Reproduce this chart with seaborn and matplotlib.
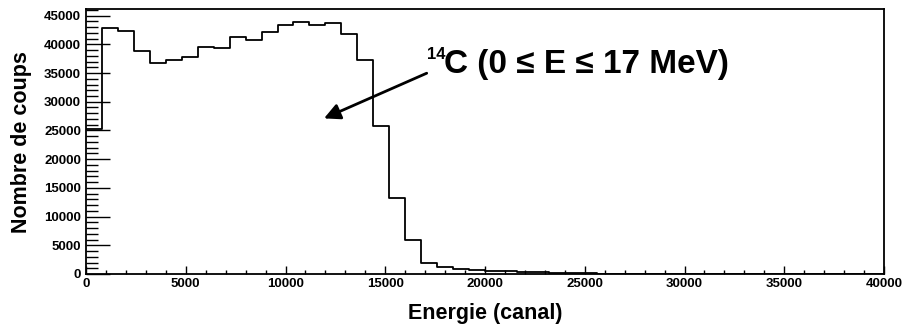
import numpy as np
import pandas as pd
import matplotlib
matplotlib.use("Agg")
import matplotlib.pyplot as plt
from matplotlib.ticker import MultipleLocator
import seaborn as sns

# =========================
# DATA (histogram, 50 bins of 800 channels)
# =========================
bin_width = 800
n_bins = 50
counts = [25200, 42900, 42400, 38800, 36700, 37200, 37800, 39500, 39300, 41300,
          40800, 42100, 43400, 43950, 43300, 43800, 41750, 37200, 25800, 13150,
          5900, 1950, 1300, 900, 620, 520, 450, 400, 350, 120,
          200, 120, 0, 0, 0, 0, 0, 0, 0, 0,
          0, 0, 0, 0, 0, 0, 0, 0, 0, 0]
edges = [i * bin_width for i in range(n_bins + 1)]
centers = [e + bin_width / 2 for e in edges[:-1]]

x_label = "Energie (canal)"
y_label = "Nombre de coups"
note = "C (0 \u2264 E \u2264 17 MeV)"
note_sup = "14"

df = pd.DataFrame({"canal": centers, "coups": counts})

# =========================
# STYLE
# =========================
sns.set_style("ticks")
plt.rcParams["font.family"] = ["Liberation Sans", "DejaVu Sans"]
plt.rcParams["font.weight"] = "bold"
for key in ["text.color", "axes.labelcolor", "xtick.color", "ytick.color",
            "axes.edgecolor"]:
    plt.rcParams[key] = "black"

fig = plt.figure(figsize=(9.05, 3.24), dpi=100)
ax = fig.add_axes([86 / 905, 1 - 274 / 324, 798 / 905, (274 - 9.3) / 324])

sns.histplot(data=df, x="canal", weights="coups", bins=edges, element="step",
             fill=False, color="black", linewidth=1.3, ax=ax)

ax.set_xlim(0, 40000)
ax.set_ylim(0, 46100)

ax.xaxis.set_major_locator(MultipleLocator(5000))
ax.xaxis.set_minor_locator(MultipleLocator(1000))
ax.yaxis.set_major_locator(MultipleLocator(5000))
ax.yaxis.set_minor_locator(MultipleLocator(1000))

ax.tick_params(axis="x", which="major", direction="in", length=6, width=1,
               labelsize=9.5, pad=3, top=False)
ax.tick_params(axis="x", which="minor", direction="in", length=3, width=1)
ax.tick_params(axis="y", which="major", direction="in", length=17, width=1,
               labelsize=9.5, pad=3.5, right=False)
ax.tick_params(axis="y", which="minor", direction="in", length=8.5, width=1)
for lab in ax.get_xticklabels() + ax.get_yticklabels():
    lab.set_fontweight("bold")

for side in ax.spines.values():
    side.set_visible(True)
    side.set_linewidth(1.3)
    side.set_color("black")

ax.set_xlabel(x_label, fontsize=15.5, fontweight="bold")
ax.set_ylabel(y_label, fontsize=15.5, fontweight="bold")
ax.xaxis.set_label_coords(0.5, -0.11)
ax.yaxis.set_label_coords(-0.068, 0.5)

# =========================
# ANNOTATION
# =========================
ax.annotate("", xy=(11930, 27100), xytext=(17078, 34970),
            arrowprops=dict(arrowstyle="-|>", mutation_scale=24, lw=2,
                            color="black", shrinkA=0, shrinkB=0))
ax.text(17950, 34950, note, fontsize=24, fontweight="bold",
        ha="left", va="baseline")
ax.text(18000, 37500, note_sup, fontsize=12, fontweight="bold",
        ha="right", va="baseline")

plt.savefig("out.png", dpi=100)
